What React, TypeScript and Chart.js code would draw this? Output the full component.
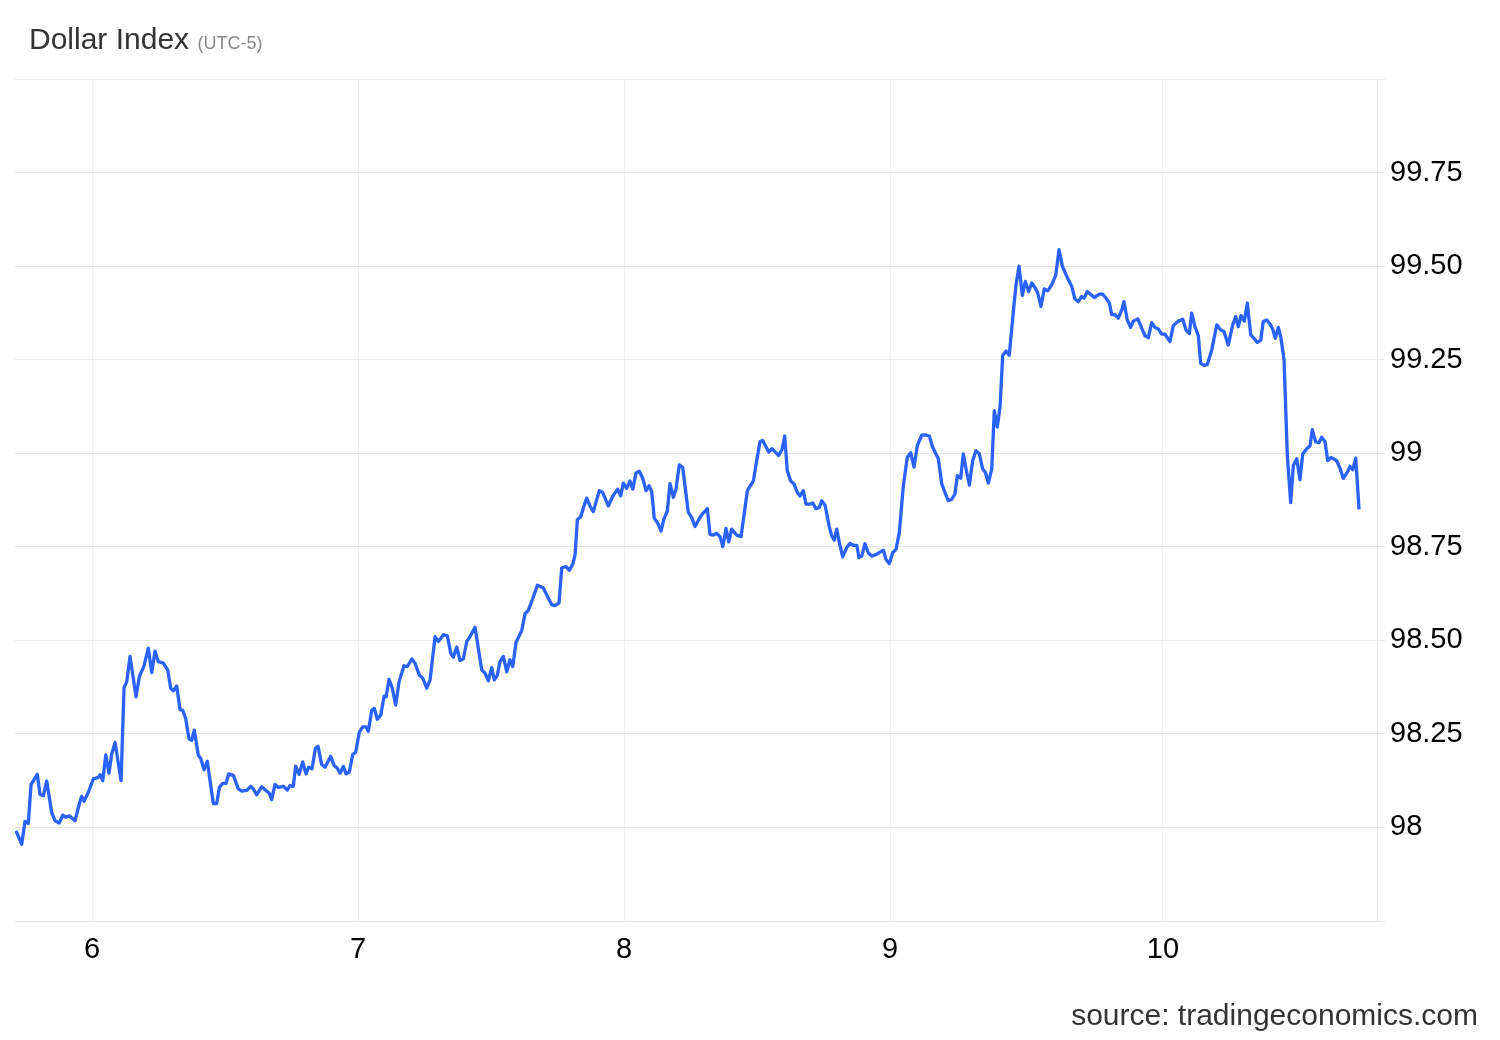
import React, { useEffect, useRef } from 'react';
import { Chart, registerables } from 'chart.js';

Chart.register(...registerables);

// Time in hours since the start of day 6 (UTC-5)
const hours = [
  -6.86, -6.34, -6.05, -5.75, -5.5, -4.94, -4.69, -4.39, -4.09, -3.64, -3.34, -2.95, -2.64, -2.35, -2.05, -1.53, -1.15, -0.93, -0.72, -0.33,
  0.12, 0.57, 0.72, 0.97, 1.24, 1.53, 1.78, 2.08, 2.62, 2.89, 3.13, 3.43, 3.97, 4.27, 4.69, 5.08, 5.39, 5.68, 5.98, 6.43,
  6.83, 7.1, 7.34, 7.64, 7.94, 8.18, 8.45, 8.75, 9.0, 9.23, 9.59, 9.81, 10.11, 10.4, 10.94, 11.25, 11.49, 11.79, 12.09, 12.33,
  12.75, 13.2, 13.51, 13.96, 14.32, 14.55, 14.86, 15.31, 15.7, 16.0, 16.21, 16.51, 16.81, 17.26, 17.62, 17.86, 18.16, 18.38, 18.68, 19.01,
  19.31, 19.55, 19.85, 20.15, 20.39, 20.72, 21.02, 21.54, 21.83, 22.13, 22.38, 22.67, 22.92, 23.22, 23.52, 23.79, 24.12, 24.42, 24.72, 24.93,
  25.24, 25.47, 25.74, 26.05, 26.35, 26.53, 26.8, 27.09, 27.4, 27.7, 28.15, 28.45, 28.85, 29.14, 29.53, 29.84, 30.2, 30.5, 30.95, 31.25,
  31.7, 32.06, 32.36, 32.6, 32.91, 33.2, 33.5, 33.81, 34.11, 34.56, 35.16, 35.46, 35.76, 36.06, 36.3, 36.57, 36.81, 37.11, 37.42, 37.71,
  37.96, 38.26, 38.77, 39.07, 39.37, 39.76, 40.18, 40.72, 41.08, 41.48, 41.77, 42.14, 42.38, 42.77, 43.06, 43.37, 43.58, 43.79, 44.09, 44.39,
  44.63, 44.93, 45.23, 45.77, 46.08, 46.58, 46.98, 47.43, 47.7, 47.94, 48.24, 48.54, 48.79, 49.08, 49.38, 49.69, 49.99, 50.26, 50.5, 50.73,
  51.01, 51.34, 51.61, 51.91, 52.15, 52.45, 52.69, 52.99, 53.3, 53.8, 54.11, 54.41, 54.86, 55.15, 55.52, 55.76, 56.06, 56.36, 56.66, 56.91,
  57.2, 57.45, 57.72, 58.17, 58.56, 58.92, 59.13, 59.67, 59.97, 60.27, 60.51, 61.06, 61.35, 61.65, 61.96, 62.26, 62.5, 62.73, 63.04, 63.34,
  63.64, 63.88, 64.18, 64.42, 64.78, 65.03, 65.32, 65.62, 65.84, 66.14, 66.52, 66.74, 66.97, 67.19, 67.43, 67.73, 68.09, 68.39, 68.69, 69.0,
  69.2, 69.45, 69.74, 70.04, 70.35, 70.8, 71.4, 71.64, 71.94, 72.24, 72.54, 72.84, 73.2, 73.56, 73.87, 74.17, 74.46, 74.86, 75.16, 75.55,
  75.85, 76.36, 76.67, 76.96, 77.26, 77.57, 77.86, 78.07, 78.38, 78.61, 78.92, 79.16, 79.46, 79.76, 80.06, 80.36, 80.6, 80.87, 81.18, 81.41,
  81.68, 81.93, 82.17, 82.47, 82.76, 83.13, 83.37, 83.64, 83.94, 84.21, 84.51, 84.79, 85.08, 85.33, 85.62, 85.92, 86.23, 86.59, 86.95, 87.25,
  87.55, 87.94, 88.39, 88.69, 88.99, 89.3, 89.5, 89.8, 90.2, 90.43, 90.89, 91.19, 91.49, 91.79, 92.0, 92.3, 92.6, 92.91, 93.11, 93.41,
  93.72, 93.95, 94.36, 94.71, 95.01, 95.31, 95.61, 95.91, 96.21, 96.51, 96.81, 97.26, 97.56, 98.01, 98.41, 98.71, 99.01, 99.22, 99.52, 99.82,
  100.03, 100.33, 100.63, 101.03, 101.48, 101.84, 102.14, 102.52, 102.92, 103.19, 103.43, 103.67, 103.97, 104.24, 104.55, 104.84, 105.14, 105.45, 105.68, 105.99,
  106.29, 106.53, 106.76, 107.04, 107.25, 107.55, 107.85, 108.15, 108.39, 108.7, 108.99, 109.24, 109.6, 109.9, 110.1, 110.41, 110.71, 110.95, 111.25, 111.49,
  111.79, 112.3, 112.6, 112.9, 113.26, 113.5, 113.75, 114.02, 114.32,
];

const values = [
  97.991, 97.955, 98.016, 98.011, 98.115, 98.142, 98.088, 98.085, 98.124, 98.04, 98.018, 98.012, 98.033, 98.027, 98.031, 98.018, 98.063, 98.083, 98.07, 98.094,
  98.13, 98.134, 98.141, 98.125, 98.194, 98.145, 98.197, 98.227, 98.125, 98.374, 98.389, 98.457, 98.349, 98.403, 98.432, 98.479, 98.414, 98.471, 98.443, 98.439,
  98.421, 98.372, 98.365, 98.378, 98.315, 98.313, 98.291, 98.237, 98.233, 98.26, 98.193, 98.184, 98.154, 98.177, 98.064, 98.064, 98.107, 98.118, 98.118, 98.143,
  98.139, 98.103, 98.097, 98.099, 98.11, 98.103, 98.087, 98.109, 98.099, 98.091, 98.074, 98.115, 98.107, 98.11, 98.1, 98.112, 98.11, 98.164, 98.142, 98.175,
  98.143, 98.161, 98.157, 98.211, 98.217, 98.168, 98.161, 98.19, 98.166, 98.158, 98.145, 98.163, 98.143, 98.148, 98.195, 98.201, 98.255, 98.269, 98.269, 98.257,
  98.313, 98.318, 98.289, 98.3, 98.351, 98.349, 98.396, 98.372, 98.327, 98.389, 98.432, 98.43, 98.45, 98.439, 98.407, 98.399, 98.372, 98.394, 98.51, 98.497,
  98.515, 98.512, 98.466, 98.455, 98.482, 98.446, 98.45, 98.497, 98.51, 98.535, 98.421, 98.412, 98.392, 98.427, 98.394, 98.407, 98.443, 98.457, 98.416, 98.448,
  98.43, 98.495, 98.526, 98.571, 98.58, 98.611, 98.647, 98.64, 98.618, 98.595, 98.593, 98.6, 98.694, 98.697, 98.687, 98.703, 98.727, 98.822, 98.83, 98.859,
  98.88, 98.859, 98.844, 98.9, 98.895, 98.859, 98.885, 98.904, 98.886, 98.92, 98.906, 98.926, 98.904, 98.947, 98.952, 98.933, 98.9, 98.913, 98.897, 98.826,
  98.815, 98.792, 98.825, 98.846, 98.919, 98.882, 98.904, 98.969, 98.962, 98.842, 98.828, 98.804, 98.829, 98.84, 98.852, 98.783, 98.781, 98.786, 98.777, 98.75,
  98.799, 98.763, 98.797, 98.781, 98.777, 98.855, 98.9, 98.926, 98.98, 99.031, 99.034, 99.003, 99.012, 99.003, 98.994, 99.01, 99.046, 98.953, 98.926, 98.918,
  98.895, 98.886, 98.9, 98.864, 98.864, 98.867, 98.852, 98.855, 98.873, 98.861, 98.804, 98.779, 98.768, 98.797, 98.761, 98.723, 98.748, 98.759, 98.754, 98.754,
  98.721, 98.725, 98.758, 98.734, 98.725, 98.73, 98.741, 98.716, 98.705, 98.734, 98.743, 98.788, 98.912, 98.989, 99.001, 98.963, 99.02, 99.048, 99.049, 99.046,
  99.016, 98.985, 98.918, 98.895, 98.873, 98.877, 98.891, 98.94, 98.933, 98.998, 98.949, 98.915, 98.98, 99.007, 98.998, 98.958, 98.949, 98.92, 98.958, 99.114,
  99.07, 99.124, 99.262, 99.273, 99.262, 99.379, 99.45, 99.5, 99.422, 99.459, 99.432, 99.455, 99.443, 99.428, 99.392, 99.439, 99.434, 99.45, 99.475, 99.544,
  99.5, 99.473, 99.446, 99.412, 99.405, 99.419, 99.414, 99.432, 99.422, 99.416, 99.425, 99.425, 99.414, 99.401, 99.371, 99.37, 99.361, 99.383, 99.405, 99.356,
  99.336, 99.353, 99.359, 99.334, 99.314, 99.309, 99.349, 99.336, 99.332, 99.318, 99.318, 99.298, 99.341, 99.353, 99.358, 99.329, 99.32, 99.374, 99.338, 99.314,
  99.24, 99.235, 99.237, 99.276, 99.343, 99.329, 99.325, 99.289, 99.343, 99.365, 99.338, 99.368, 99.353, 99.401, 99.316, 99.307, 99.296, 99.302, 99.352, 99.356,
  99.345, 99.332, 99.307, 99.336, 99.312, 99.251, 98.994, 98.868, 98.967, 98.985, 98.929, 98.998, 99.012, 99.02, 99.063, 99.03, 99.028, 99.043, 99.031, 98.98,
  98.989, 98.98, 98.96, 98.933, 98.949, 98.965, 98.956, 98.987, 98.85,
];

// Day boundaries (x-axis ticks) and their labels
const dayTickHours = [0, 24, 48, 72, 96.63];
const dayLabels = ['6', '7', '8', '9', '10'];

// Axis bounds
const xMin = -6.95;
const xMax = 115.94;
const yMin = 97.75;
const yMax = 100;
const yStep = 0.25;

const FONT = '"Liberation Sans", Arial, Helvetica, sans-serif';

export default function App() {
  const ref = useRef<HTMLCanvasElement>(null);

  useEffect(() => {
    document.body.style.margin = '0';
    const canvas = ref.current;
    if (!canvas) return;
    const chart = new Chart(canvas, {
      type: 'line',
      data: {
        datasets: [
          {
            data: hours.map((h, i) => ({ x: h, y: values[i] })),
            borderColor: '#2962ff',
            borderWidth: 3.3,
            pointRadius: 0,
            tension: 0,
            fill: false,
            borderJoinStyle: 'round',
          },
        ],
      },
      options: {
        responsive: false,
        maintainAspectRatio: false,
        animation: false,
        devicePixelRatio: 1,
        layout: { padding: { left: 15, top: 79, right: 0, bottom: 0 } },
        plugins: {
          legend: { display: false },
          tooltip: { enabled: false },
          title: { display: false },
        },
        scales: {
          x: {
            type: 'linear',
            min: xMin,
            max: xMax,
            afterBuildTicks: (scale: any) => {
              scale.ticks = dayTickHours.map((v) => ({ value: v }));
            },
            afterFit: (scale: any) => {
              scale.height = 119;
            },
            grid: { color: '#edf0f5', drawTicks: false, lineWidth: 1 },
            border: { display: false },
            ticks: {
              callback: (_v: any, i: number) => dayLabels[i],
              font: { family: FONT, size: 29 },
              color: '#000',
              padding: 12,
              maxRotation: 0,
              autoSkip: false,
            },
          },
          y: {
            position: 'right',
            min: yMin,
            max: yMax,
            afterFit: (scale: any) => {
              scale.width = 123;
            },
            grid: { color: '#e6e6e6', tickLength: 8, lineWidth: 1 },
            border: { display: true, color: '#e6e6e6', width: 1 },
            ticks: {
              stepSize: yStep,
              font: { family: FONT, size: 29 },
              color: '#000',
              padding: 5,
              callback: (v: any) => {
                const n = Number(v);
                if (Math.abs(n - yMin) < 1e-9 || Math.abs(n - yMax) < 1e-9) return '';
                return Number.isInteger(n) ? String(n) : n.toFixed(2);
              },
            },
          },
        },
      },
    } as any);
    return () => chart.destroy();
  }, []);

  return (
    <div style={{ position: 'relative', width: 1500, height: 1040, background: '#fff', overflow: 'hidden' }}>
      <canvas ref={ref} width={1500} height={1040} style={{ position: 'absolute', left: 0, top: 0, width: 1500, height: 1040 }} />
      <div
        style={{
          position: 'absolute',
          left: 29,
          top: 22,
          fontFamily: FONT,
          fontSize: 30,
          color: '#333',
          whiteSpace: 'nowrap',
        }}
      >
        Dollar Index <span style={{ fontSize: 18, color: '#888' }}>(UTC-5)</span>
      </div>
      <div
        style={{
          position: 'absolute',
          right: 22,
          top: 998,
          fontFamily: FONT,
          fontSize: 30,
          color: '#333',
          whiteSpace: 'nowrap',
        }}
      >
        source: tradingeconomics.com
      </div>
    </div>
  );
}
